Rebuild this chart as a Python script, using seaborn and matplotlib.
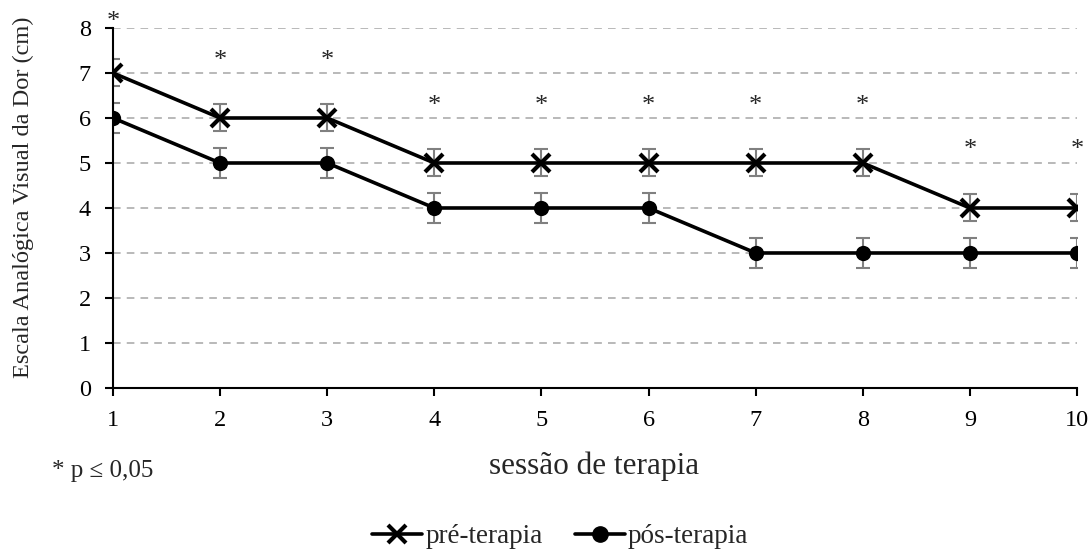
import matplotlib.pyplot as plt
import seaborn as sns

sessoes = [1, 2, 3, 4, 5, 6, 7, 8, 9, 10]
pre_terapia = [7, 6, 6, 5, 5, 5, 5, 5, 4, 4]
pos_terapia = [6, 5, 5, 4, 4, 4, 3, 3, 3, 3]
erro_pre = [0.3] * 10
erro_pos = [0.33] * 10
altura_asterisco = [8.13, 7.27, 7.27, 6.27, 6.27, 6.27, 6.27, 6.27, 5.29, 5.29]

sns.set_style('white')
plt.rcParams['font.family'] = ['Liberation Serif', 'DejaVu Serif']

fig = plt.figure(figsize=(10.92, 5.49), dpi=100)
ax = fig.add_axes([0.1035, 0.2933, 0.8828, 0.6557])

for y in range(1, 9):
    ax.axhline(y, color='#A6A6A6', ls=(0, (5, 4)), lw=1.1, zorder=0)

ax.errorbar(sessoes, pre_terapia, yerr=erro_pre, fmt='none', ecolor='#808080',
            elinewidth=1.5, capsize=4.7, capthick=1.5, zorder=2)
ax.errorbar(sessoes, pos_terapia, yerr=erro_pos, fmt='none', ecolor='#808080',
            elinewidth=1.5, capsize=4.7, capthick=1.5, zorder=2)

sns.lineplot(x=sessoes, y=pre_terapia, color='black', marker='x',
             linewidth=2.6, markersize=13, markeredgewidth=3,
             markeredgecolor='black', ax=ax, zorder=3)
sns.lineplot(x=sessoes, y=pos_terapia, color='black', marker='o',
             linewidth=2.6, markersize=11, markeredgewidth=0,
             markerfacecolor='black', ax=ax, zorder=3)

for x, h in zip(sessoes, altura_asterisco):
    ax.text(x, h, '*', ha='center', va='center', fontsize=19, clip_on=False)

ax.set_xlim(1, 10)
ax.set_ylim(0, 8)
ax.set_xticks(sessoes)
ax.set_yticks(range(0, 9))
ax.tick_params(axis='both', labelsize=17.5, length=6, width=1.5, direction='out',
               bottom=True, left=True, colors='black', pad=10)
for lado in ['top', 'right']:
    ax.spines[lado].set_visible(False)
for lado in ['left', 'bottom']:
    ax.spines[lado].set_color('black')
    ax.spines[lado].set_linewidth(1.5)

ax.set_xlabel('sessão de terapia', fontsize=22.5, va='center')
ax.xaxis.set_label_coords(0.499, -0.218)
ax.set_ylabel('Escala Analógica Visual da Dor (cm)', fontsize=17.6, va='center')
ax.yaxis.set_label_coords(-0.093, 0.53)

fig.text(0.048, 0.142, '* p ≤ 0,05', fontsize=18, va='center')

handles = [
    plt.Line2D([], [], color='black', lw=2.6, marker='x', markersize=13, markeredgewidth=3),
    plt.Line2D([], [], color='black', lw=2.6, marker='o', markersize=11),
]
fig.legend(handles, ['pré-terapia', 'pós-terapia'], loc='center', ncol=2,
           bbox_to_anchor=(0.513, 0.022), frameon=False, fontsize=19.5,
           handlelength=1.85, handletextpad=0.1, columnspacing=1.2,
           borderpad=0, borderaxespad=0)

fig.savefig('out.png', dpi=100)
